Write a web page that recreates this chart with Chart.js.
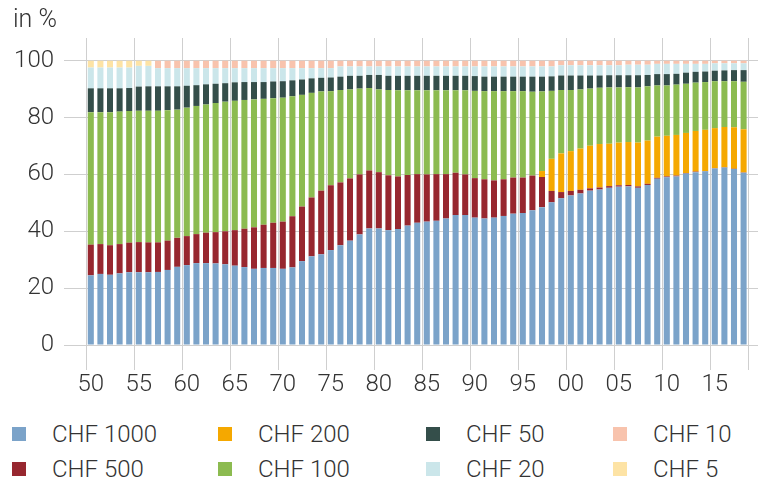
<!DOCTYPE html>
<html lang="de">
<head>
<meta charset="UTF-8">
<title>Banknotenumlauf nach Abschnitten</title>
<script src="https://cdn.jsdelivr.net/npm/chart.js"></script>
<style>
    body { margin: 0; background: #fff; font-family: Roboto, Arial, sans-serif; font-weight: 300; color: #333; }
    .wrap { position: relative; width: 760px; height: 484px; }
    #unit { position: absolute; left: 13px; top: 4px; font-size: 25px; }
    #legend { position: absolute; left: 12px; top: 416px; display: grid; grid-auto-flow: column;
              grid-template-rows: 35px 35px; grid-template-columns: 206px 208px 187px 140px; }
    .item { display: flex; align-items: center; font-size: 24px; white-space: nowrap; }
    .box { width: 14px; height: 14px; margin-right: 26px; }
</style>
</head>
<body>
<div class="wrap">
    <div id="unit">in %</div>
    <canvas id="chart" width="760" height="400"></canvas>
    <div id="legend"></div>
</div>

<script>
    // years 1950..2018, plus one empty slot at the right edge
    const years = [];
    for (let y = 1950; y <= 2018; y++) years.push(String(y));
    const labels = years.concat(['']);
    const yTicks = [0, 20, 40, 60, 80, 100];

    const chf1000 = [24.5, 25.0, 24.7, 25.2, 25.6, 25.6, 25.6, 25.7, 26.4, 27.5,
        28.1, 28.8, 28.8, 28.7, 28.4, 27.9, 27.4, 26.8, 27.1, 27.1,
        26.8, 27.3, 29.5, 31.2, 31.9, 33.4, 35.1, 36.7, 38.9, 41.0,
        41.0, 40.4, 40.8, 42.0, 43.0, 43.4, 43.7, 44.5, 45.7, 45.7,
        44.8, 44.5, 44.8, 45.4, 46.2, 46.4, 47.4, 48.5, 50.2, 51.6,
        52.6, 53.3, 54.3, 54.7, 55.3, 55.7, 55.8, 55.3, 56.3, 58.5,
        59.0, 59.3, 60.3, 60.8, 61.1, 62.1, 62.4, 61.9, 60.6];
    const chf500 = [10.8, 10.5, 10.4, 10.3, 10.4, 10.6, 10.5, 10.4, 10.3, 10.2,
        10.2, 10.2, 10.7, 11.0, 11.6, 12.5, 13.5, 14.6, 15.2, 15.9,
        16.6, 18.0, 19.2, 20.7, 22.4, 22.8, 22.1, 21.9, 21.1, 20.4,
        19.8, 19.3, 18.5, 17.8, 17.1, 16.6, 16.4, 15.6, 14.9, 14.3,
        13.9, 13.8, 13.1, 12.9, 12.7, 12.5, 12.2, 10.6, 4.0, 2.2,
        1.6, 1.3, 0.8, 0.7, 0.6, 0.5, 0.5, 0.5, 0.4, 0.3,
        0.3, 0.3, 0.2, 0.2, 0.1, 0.1, 0.1, 0.1, 0.1];
    const chf200 = [0, 0, 0, 0, 0, 0, 0, 0, 0, 0,
        0, 0, 0, 0, 0, 0, 0, 0, 0, 0,
        0, 0, 0, 0, 0, 0, 0, 0, 0, 0,
        0, 0, 0, 0, 0, 0, 0, 0, 0, 0,
        0, 0, 0, 0, 0, 0, 0, 2.1, 11.3, 13.6,
        14.0, 14.5, 15.0, 15.3, 14.9, 15.0, 15.1, 15.4, 15.2, 14.5,
        14.3, 14.3, 14.1, 14.3, 14.5, 14.1, 14.2, 14.6, 15.2];
    const chf100 = [46.6, 46.4, 46.8, 46.6, 46.3, 46.2, 46.3, 46.3, 45.9, 45.1,
        45.2, 45.1, 45.1, 45.4, 45.6, 45.5, 45.3, 45.0, 44.3, 43.8,
        43.6, 42.2, 39.3, 36.8, 34.9, 33.1, 32.5, 31.3, 30.2, 29.0,
        29.1, 30.0, 30.3, 29.8, 29.5, 29.6, 29.5, 29.5, 29.0, 29.6,
        30.7, 31.0, 31.4, 31.0, 30.4, 30.4, 29.5, 28.0, 23.9, 22.3,
        21.5, 20.8, 20.1, 19.8, 19.8, 19.4, 19.3, 19.4, 19.1, 18.0,
        17.7, 17.7, 17.3, 17.0, 16.8, 16.5, 16.1, 16.2, 16.7];
    const chf50 = [8.4, 8.4, 8.4, 8.2, 8.1, 8.5, 8.6, 8.6, 8.4, 8.2,
        7.7, 7.3, 7.1, 6.8, 6.5, 6.5, 6.3, 6.1, 5.9, 5.9,
        5.8, 5.6, 5.4, 5.1, 4.8, 4.8, 4.7, 4.8, 4.5, 4.6,
        5.1, 5.0, 5.1, 5.1, 5.1, 5.1, 5.1, 5.1, 5.1, 5.1,
        5.2, 5.1, 5.1, 5.1, 5.1, 5.1, 5.3, 5.2, 5.1, 5.1,
        5.1, 4.9, 4.6, 4.3, 4.3, 4.3, 4.2, 4.3, 4.0, 4.0,
        4.0, 3.8, 3.9, 3.8, 3.7, 3.7, 3.8, 3.9, 4.1];
    const chf20 = [7.3, 7.3, 7.3, 7.3, 7.2, 7.3, 7.2, 6.4, 6.4, 6.4,
        6.2, 6.0, 5.7, 5.5, 5.3, 5.0, 4.9, 4.9, 4.9, 4.7,
        4.6, 4.3, 4.0, 3.6, 3.4, 3.3, 3.6, 3.3, 3.3, 3.0,
        3.0, 3.3, 3.3, 3.3, 3.3, 3.3, 3.3, 3.3, 3.3, 3.3,
        3.4, 3.6, 3.6, 3.6, 3.6, 3.6, 3.6, 3.6, 3.5, 3.6,
        3.6, 3.6, 3.6, 3.6, 3.5, 3.5, 3.7, 3.7, 3.6, 3.6,
        3.6, 3.5, 3.1, 2.8, 2.7, 2.6, 2.5, 2.4, 2.4];
    const chf10 = [0, 0, 0, 0, 0, 0, 0, 2.6, 2.6, 2.6,
        2.6, 2.6, 2.6, 2.6, 2.6, 2.6, 2.6, 2.6, 2.6, 2.6,
        2.6, 2.6, 2.6, 2.6, 2.6, 2.6, 2.0, 2.0, 2.0, 2.0,
        2.0, 2.0, 2.0, 2.0, 2.0, 2.0, 2.0, 2.0, 2.0, 2.0,
        2.0, 2.0, 2.0, 2.0, 2.0, 2.0, 2.0, 2.0, 2.0, 1.6,
        1.6, 1.6, 1.6, 1.6, 1.6, 1.6, 1.4, 1.4, 1.4, 1.1,
        1.1, 1.1, 1.1, 1.1, 1.1, 0.9, 0.9, 0.9, 0.9];
    const chf5 = [2.4, 2.4, 2.4, 2.4, 2.4, 1.8, 1.8];

    const seriesNames = ['CHF 1000', 'CHF 500', 'CHF 200', 'CHF 100', 'CHF 50', 'CHF 20', 'CHF 10', 'CHF 5'];
    const seriesData = [chf1000, chf500, chf200, chf100, chf50, chf20, chf10, chf5];
    const seriesColors = ['#7ba3c9', '#97272f', '#f5a800', '#8cbb50', '#344e4a', '#cbe6ea', '#f8c3ad', '#fde3a5'];

    const gridGrey = '#cfcfcf';
    const font = { family: 'Roboto', size: 24, weight: 300 };

    const datasets = seriesNames.map((name, i) => ({
        label: name,
        data: seriesData[i],
        backgroundColor: seriesColors[i],
        borderWidth: 0,
        categoryPercentage: 1,
        barPercentage: 0.63
    }));

    const chart = new Chart(document.getElementById('chart'), {
        type: 'bar',
        data: { labels: labels, datasets: datasets },
        options: {
            responsive: false,
            animation: false,
            layout: { padding: { top: 38, right: 2, left: 0, bottom: 0 } },
            plugins: { legend: { display: false }, tooltip: { enabled: false } },
            scales: {
                x: {
                    stacked: true,
                    border: { display: false },
                    grid: {
                        offset: true,
                        tickLength: 25,
                        color: ctx => {
                            if (ctx.index === undefined) return 'transparent';
                            return (ctx.index % 5 === 0 || ctx.index === years.length) ? gridGrey : 'transparent';
                        }
                    },
                    ticks: {
                        autoSkip: false,
                        maxRotation: 0,
                        padding: 1,
                        color: '#333',
                        font: font,
                        callback: (v, i) => (i < years.length && i % 5 === 0) ? years[i].slice(2) : ''
                    },
                    afterFit: s => { s.height = 55; }
                },
                y: {
                    stacked: true,
                    min: 0,
                    max: 108,
                    border: { display: false },
                    afterBuildTicks: s => { s.ticks = yTicks.map(v => ({ value: v })); },
                    grid: { color: gridGrey, tickLength: 22 },
                    ticks: { padding: 10, color: '#333', font: font },
                    afterFit: s => { s.width = 86; }
                }
            }
        }
    });

    // legend in four columns, two rows
    const legend = document.getElementById('legend');
    chart.data.datasets.forEach(ds => {
        const item = document.createElement('div');
        item.className = 'item';
        item.innerHTML = '<span class="box" style="background:' + ds.backgroundColor + '"></span>' + ds.label;
        legend.appendChild(item);
    });
</script>
</body>
</html>
